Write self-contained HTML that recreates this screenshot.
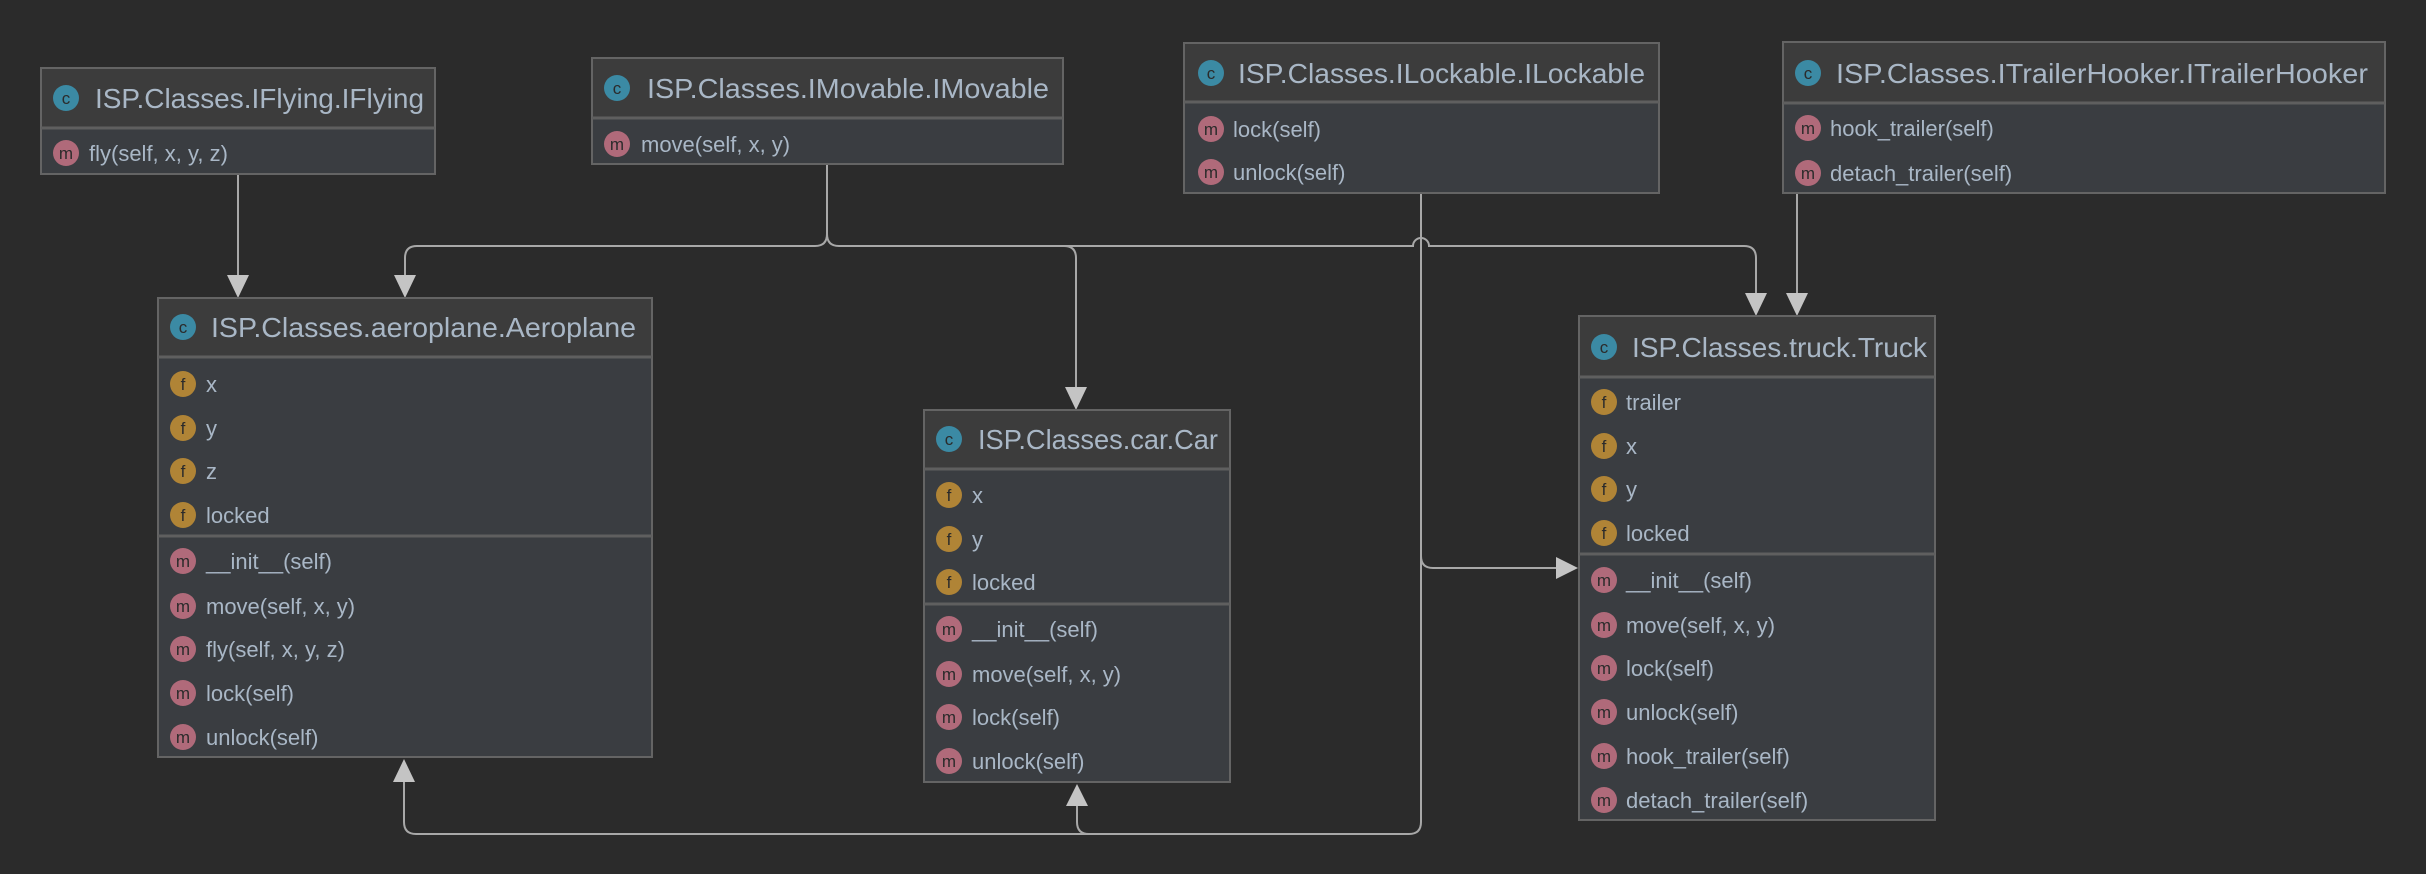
<!DOCTYPE html>
<html><head><meta charset="utf-8"><style>
html,body{margin:0;padding:0;background:#2b2b2b;}
svg{display:block;}
text{font-family:"Liberation Sans",sans-serif;}
.t{fill:#a9b7c6;font-size:28px;}
.r{fill:#a9b7c6;font-size:22px;}
.il{fill:#2b2b2b;font-size:17px;text-anchor:middle;}
.ln{fill:none;stroke:#a8a8a8;stroke-width:2;}
.ah{fill:#c4c4c4;}
.hd{fill:#3c3c3c;}
.bd{fill:#3a3d41;}
.bx{fill:none;stroke:#646464;stroke-width:2;}
.dv{stroke:#5f5f5f;stroke-width:3;}
</style></head><body>
<svg width="2426" height="874" viewBox="0 0 2426 874" xmlns="http://www.w3.org/2000/svg">
<rect width="2426" height="874" fill="#2b2b2b"/>

<!-- connectors -->
<path class="ln" d="M238 174 V280"/>
<path class="ln" d="M827 164 V234 Q827 246 815 246 H417 Q405 246 405 258 V280"/>
<path class="ln" d="M827 234 Q827 246 839 246 H1064 Q1076 246 1076 258 V392"/>
<path class="ln" d="M1064 246 H1413 A8 8 0 0 1 1429 246 H1744 Q1756 246 1756 258 V298"/>
<path class="ln" d="M1797 193 V298"/>
<path class="ln" d="M1421 193 V822 Q1421 834 1409 834 H1089 Q1077 834 1077 822 V804"/>
<path class="ln" d="M1089 834 H416 Q404 834 404 822 V780"/>
<path class="ln" d="M1421 556 Q1421 568 1433 568 H1560"/>
<!-- arrowheads -->
<polygon class="ah" points="227,275 249,275 238,298"/>
<polygon class="ah" points="394,275 416,275 405,298"/>
<polygon class="ah" points="1065,387 1087,387 1076,410"/>
<polygon class="ah" points="1745,293 1767,293 1756,316"/>
<polygon class="ah" points="1786,293 1808,293 1797,316"/>
<polygon class="ah" points="393,782 415,782 404,759"/>
<polygon class="ah" points="1066,806 1088,806 1077,784"/>
<polygon class="ah" points="1556,557 1556,579 1578,568"/>

<!-- IFlying -->
<rect class="hd" x="41" y="68" width="394" height="60"/>
<rect class="bd" x="41" y="128" width="394" height="46"/>
<rect class="bx" x="41" y="68" width="394" height="106"/>
<line class="dv" x1="41" y1="128" x2="435" y2="128"/>
<circle cx="66" cy="98" r="13" fill="#3b8aa4"/><text class="il" x="66" y="104">c</text>
<text class="t" x="95" y="108" textLength="329" lengthAdjust="spacingAndGlyphs">ISP.Classes.IFlying.IFlying</text>
<circle cx="66" cy="153" r="13" fill="#b06a7a"/><text class="il" x="66" y="159">m</text>
<text class="r" x="89" y="161">fly(self, x, y, z)</text>

<!-- IMovable -->
<rect class="hd" x="592" y="58" width="471" height="60"/>
<rect class="bd" x="592" y="118" width="471" height="46"/>
<rect class="bx" x="592" y="58" width="471" height="106"/>
<line class="dv" x1="592" y1="118" x2="1063" y2="118"/>
<circle cx="617" cy="88" r="13" fill="#3b8aa4"/><text class="il" x="617" y="94">c</text>
<text class="t" x="647" y="98" textLength="402" lengthAdjust="spacingAndGlyphs">ISP.Classes.IMovable.IMovable</text>
<circle cx="617" cy="144" r="13" fill="#b06a7a"/><text class="il" x="617" y="150">m</text>
<text class="r" x="641" y="152">move(self, x, y)</text>

<!-- ILockable -->
<rect class="hd" x="1184" y="43" width="475" height="59"/>
<rect class="bd" x="1184" y="102" width="475" height="91"/>
<rect class="bx" x="1184" y="43" width="475" height="150"/>
<line class="dv" x1="1184" y1="102" x2="1659" y2="102"/>
<circle cx="1211" cy="73" r="13" fill="#3b8aa4"/><text class="il" x="1211" y="79">c</text>
<text class="t" x="1238" y="83" textLength="407" lengthAdjust="spacingAndGlyphs">ISP.Classes.ILockable.ILockable</text>
<circle cx="1211" cy="129" r="13" fill="#b06a7a"/><text class="il" x="1211" y="135">m</text>
<text class="r" x="1233" y="137">lock(self)</text>
<circle cx="1211" cy="172" r="13" fill="#b06a7a"/><text class="il" x="1211" y="178">m</text>
<text class="r" x="1233" y="180">unlock(self)</text>

<!-- ITrailerHooker -->
<rect class="hd" x="1783" y="42" width="602" height="61"/>
<rect class="bd" x="1783" y="103" width="602" height="90"/>
<rect class="bx" x="1783" y="42" width="602" height="151"/>
<line class="dv" x1="1783" y1="103" x2="2385" y2="103"/>
<circle cx="1808" cy="73" r="13" fill="#3b8aa4"/><text class="il" x="1808" y="79">c</text>
<text class="t" x="1836" y="83" textLength="532" lengthAdjust="spacingAndGlyphs">ISP.Classes.ITrailerHooker.ITrailerHooker</text>
<circle cx="1808" cy="128" r="13" fill="#b06a7a"/><text class="il" x="1808" y="134">m</text>
<text class="r" x="1830" y="136">hook_trailer(self)</text>
<circle cx="1808" cy="173" r="13" fill="#b06a7a"/><text class="il" x="1808" y="179">m</text>
<text class="r" x="1830" y="181">detach_trailer(self)</text>

<!-- Aeroplane -->
<rect class="hd" x="158" y="298" width="494" height="59"/>
<rect class="bd" x="158" y="357" width="494" height="400"/>
<rect class="bx" x="158" y="298" width="494" height="459"/>
<line class="dv" x1="158" y1="357" x2="652" y2="357"/>
<line class="dv" x1="158" y1="536" x2="652" y2="536"/>
<circle cx="183" cy="327" r="13" fill="#3b8aa4"/><text class="il" x="183" y="333">c</text>
<text class="t" x="211" y="337" textLength="425" lengthAdjust="spacingAndGlyphs">ISP.Classes.aeroplane.Aeroplane</text>
<g>
<circle cx="183" cy="384" r="13" fill="#b08436"/><text class="il" x="183" y="390">f</text><text class="r" x="206" y="392">x</text>
<circle cx="183" cy="428" r="13" fill="#b08436"/><text class="il" x="183" y="434">f</text><text class="r" x="206" y="436">y</text>
<circle cx="183" cy="471" r="13" fill="#b08436"/><text class="il" x="183" y="477">f</text><text class="r" x="206" y="479">z</text>
<circle cx="183" cy="515" r="13" fill="#b08436"/><text class="il" x="183" y="521">f</text><text class="r" x="206" y="523">locked</text>
<circle cx="183" cy="561" r="13" fill="#b06a7a"/><text class="il" x="183" y="567">m</text><text class="r" x="206" y="569">__init__(self)</text>
<circle cx="183" cy="606" r="13" fill="#b06a7a"/><text class="il" x="183" y="612">m</text><text class="r" x="206" y="614">move(self, x, y)</text>
<circle cx="183" cy="649" r="13" fill="#b06a7a"/><text class="il" x="183" y="655">m</text><text class="r" x="206" y="657">fly(self, x, y, z)</text>
<circle cx="183" cy="693" r="13" fill="#b06a7a"/><text class="il" x="183" y="699">m</text><text class="r" x="206" y="701">lock(self)</text>
<circle cx="183" cy="737" r="13" fill="#b06a7a"/><text class="il" x="183" y="743">m</text><text class="r" x="206" y="745">unlock(self)</text>
</g>

<!-- Car -->
<rect class="hd" x="924" y="410" width="306" height="59"/>
<rect class="bd" x="924" y="469" width="306" height="313"/>
<rect class="bx" x="924" y="410" width="306" height="372"/>
<line class="dv" x1="924" y1="469" x2="1230" y2="469"/>
<line class="dv" x1="924" y1="604" x2="1230" y2="604"/>
<circle cx="949" cy="439" r="13" fill="#3b8aa4"/><text class="il" x="949" y="445">c</text>
<text class="t" x="978" y="449" textLength="240" lengthAdjust="spacingAndGlyphs">ISP.Classes.car.Car</text>
<circle cx="949" cy="495" r="13" fill="#b08436"/><text class="il" x="949" y="501">f</text><text class="r" x="972" y="503">x</text>
<circle cx="949" cy="539" r="13" fill="#b08436"/><text class="il" x="949" y="545">f</text><text class="r" x="972" y="547">y</text>
<circle cx="949" cy="582" r="13" fill="#b08436"/><text class="il" x="949" y="588">f</text><text class="r" x="972" y="590">locked</text>
<circle cx="949" cy="629" r="13" fill="#b06a7a"/><text class="il" x="949" y="635">m</text><text class="r" x="972" y="637">__init__(self)</text>
<circle cx="949" cy="674" r="13" fill="#b06a7a"/><text class="il" x="949" y="680">m</text><text class="r" x="972" y="682">move(self, x, y)</text>
<circle cx="949" cy="717" r="13" fill="#b06a7a"/><text class="il" x="949" y="723">m</text><text class="r" x="972" y="725">lock(self)</text>
<circle cx="949" cy="761" r="13" fill="#b06a7a"/><text class="il" x="949" y="767">m</text><text class="r" x="972" y="769">unlock(self)</text>

<!-- Truck -->
<rect class="hd" x="1579" y="316" width="356" height="61"/>
<rect class="bd" x="1579" y="377" width="356" height="443"/>
<rect class="bx" x="1579" y="316" width="356" height="504"/>
<line class="dv" x1="1579" y1="377" x2="1935" y2="377"/>
<line class="dv" x1="1579" y1="554" x2="1935" y2="554"/>
<circle cx="1604" cy="347" r="13" fill="#3b8aa4"/><text class="il" x="1604" y="353">c</text>
<text class="t" x="1632" y="357" textLength="295" lengthAdjust="spacingAndGlyphs">ISP.Classes.truck.Truck</text>
<circle cx="1604" cy="402" r="13" fill="#b08436"/><text class="il" x="1604" y="408">f</text><text class="r" x="1626" y="410">trailer</text>
<circle cx="1604" cy="446" r="13" fill="#b08436"/><text class="il" x="1604" y="452">f</text><text class="r" x="1626" y="454">x</text>
<circle cx="1604" cy="489" r="13" fill="#b08436"/><text class="il" x="1604" y="495">f</text><text class="r" x="1626" y="497">y</text>
<circle cx="1604" cy="533" r="13" fill="#b08436"/><text class="il" x="1604" y="539">f</text><text class="r" x="1626" y="541">locked</text>
<circle cx="1604" cy="580" r="13" fill="#b06a7a"/><text class="il" x="1604" y="586">m</text><text class="r" x="1626" y="588">__init__(self)</text>
<circle cx="1604" cy="625" r="13" fill="#b06a7a"/><text class="il" x="1604" y="631">m</text><text class="r" x="1626" y="633">move(self, x, y)</text>
<circle cx="1604" cy="668" r="13" fill="#b06a7a"/><text class="il" x="1604" y="674">m</text><text class="r" x="1626" y="676">lock(self)</text>
<circle cx="1604" cy="712" r="13" fill="#b06a7a"/><text class="il" x="1604" y="718">m</text><text class="r" x="1626" y="720">unlock(self)</text>
<circle cx="1604" cy="756" r="13" fill="#b06a7a"/><text class="il" x="1604" y="762">m</text><text class="r" x="1626" y="764">hook_trailer(self)</text>
<circle cx="1604" cy="800" r="13" fill="#b06a7a"/><text class="il" x="1604" y="806">m</text><text class="r" x="1626" y="808">detach_trailer(self)</text>
</svg>
</body></html>
